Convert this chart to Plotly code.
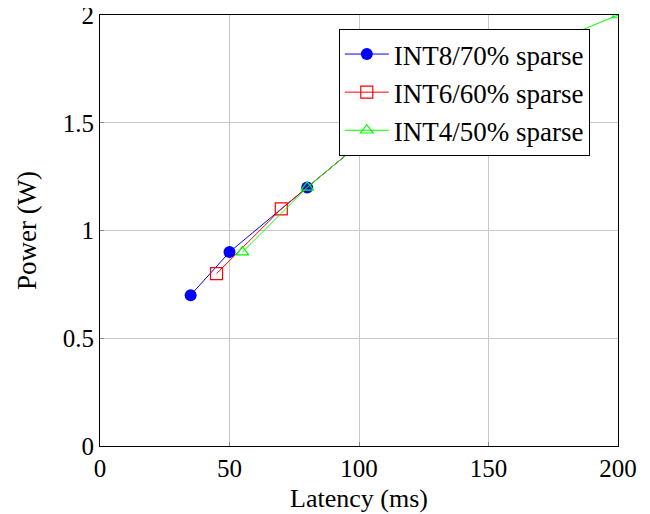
import plotly.graph_objects as go

int8_x = [35, 50, 80, 120]
int8_y = [0.7, 0.9, 1.2, 1.6]
int6_x = [45, 70, 100, 150]
int6_y = [0.8, 1.1, 1.4, 1.8]
int4_x = [55, 80, 120, 200]
int4_y = [0.9, 1.2, 1.6, 2.0]

font_family = "Liberation Serif, Times New Roman, serif"

fig = go.Figure()
fig.add_trace(go.Scatter(x=int8_x, y=int8_y, mode="lines+markers", name="INT8/70% sparse",
                         line=dict(color="#0000ff", width=1),
                         marker=dict(symbol="circle", size=12, color="#0000ff")))
fig.add_trace(go.Scatter(x=int6_x, y=int6_y, mode="lines+markers", name="INT6/60% sparse",
                         line=dict(color="#ff0000", width=1),
                         marker=dict(symbol="square-open", size=12, color="#ff0000", line=dict(width=1.2))))
fig.add_trace(go.Scatter(x=int4_x, y=int4_y, mode="lines+markers", name="INT4/50% sparse",
                         line=dict(color="#00ff00", width=1),
                         marker=dict(symbol="triangle-up-open", size=11, color="#00ff00", line=dict(width=1.2))))

fig.update_layout(
    width=650, height=514,
    margin=dict(l=92, r=40, t=7, b=76),
    plot_bgcolor="white", paper_bgcolor="white",
    font=dict(family=font_family, size=25, color="black"),
    showlegend=True,
    legend=dict(x=0.461, y=0.9675, xanchor="left", yanchor="top",
                bgcolor="white", bordercolor="black", borderwidth=1,
                font=dict(family=font_family, size=27), itemwidth=44,
                tracegroupgap=0),
    xaxis=dict(range=[0, 200], tickvals=[0, 50, 100, 150, 200],
               showgrid=True, gridcolor="#c8c8c8", gridwidth=1,
               showline=True, linecolor="black", linewidth=1, mirror=True,
               ticks="inside", ticklen=4, tickcolor="#888888",
               zeroline=False, automargin=False, ticklabeloverflow="allow",
               tickfont=dict(size=25),
               title=dict(text="Latency (ms)", font=dict(size=26), standoff=7)),
    yaxis=dict(range=[0, 2], tickvals=[0, 0.5, 1, 1.5, 2],
               showgrid=True, gridcolor="#c8c8c8", gridwidth=1,
               showline=True, linecolor="black", linewidth=1, mirror=True,
               ticks="inside", ticklen=4, tickcolor="#888888",
               zeroline=False, automargin=False, ticklabeloverflow="allow",
               tickfont=dict(size=25),
               title=dict(text="Power (W)", font=dict(size=27), standoff=18)),
)

fig.write_html("out.html")
